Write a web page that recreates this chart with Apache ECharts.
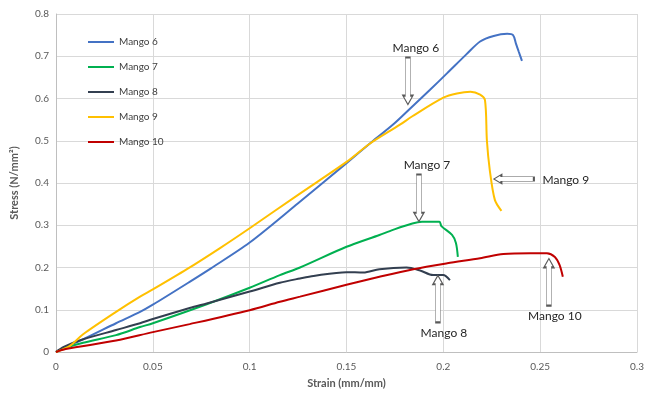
<!DOCTYPE html>
<html>
<head>
<meta charset="utf-8">
<script src="https://cdn.jsdelivr.net/npm/echarts@6/dist/echarts.min.js"></script>
<style>
    html,body{margin:0;padding:0;background:#fff;}
    #chart{width:659px;height:396px;}
</style>
</head>
<body>
<div id="chart"></div>
<script>
// strain (mm/mm), stress (N/mm2)
var mango6 = [[0,0],[0.005,0.012],[0.014,0.03],[0.031,0.068],[0.0434,0.095],[0.05,0.112],[0.069,0.166],[0.08,0.198],[0.1,0.259],
    [0.125,0.352],[0.15,0.447],[0.163,0.497],[0.1745,0.54],[0.184,0.581],[0.193,0.62],[0.202,0.66],[0.212,0.705],[0.219,0.735],
    [0.226,0.748],[0.233,0.753],[0.236,0.75],[0.2375,0.73],[0.239,0.71],[0.2406,0.689]];
var mango7 = [[0,0],[0.005,0.01],[0.014,0.022],[0.031,0.04],[0.0434,0.059],[0.05,0.068],[0.0778,0.113],[0.1,0.152],[0.1156,0.182],
    [0.126,0.2],[0.15,0.249],[0.167,0.277],[0.174,0.289],[0.184,0.304],[0.189,0.308],[0.198,0.308],[0.199,0.298],[0.2045,0.277],
    [0.2065,0.258],[0.2075,0.225]];
var mango8 = [[0,0],[0.004,0.012],[0.014,0.03],[0.031,0.052],[0.0434,0.068],[0.05,0.078],[0.069,0.104],[0.0778,0.115],[0.1,0.143],
    [0.1156,0.164],[0.126,0.174],[0.133,0.18],[0.15,0.189],[0.1587,0.188],[0.167,0.196],[0.181,0.2],[0.188,0.193],[0.1947,0.182],
    [0.1999,0.182],[0.2034,0.17]];
var mango9 = [[0,0],[0.007,0.014],[0.014,0.042],[0.031,0.095],[0.0434,0.131],[0.05,0.148],[0.0676,0.196],[0.0847,0.246],[0.1,0.293],
    [0.125,0.372],[0.15,0.45],[0.162,0.493],[0.1776,0.538],[0.184,0.558],[0.2,0.602],[0.207,0.612],[0.214,0.616],[0.219,0.609],
    [0.2215,0.596],[0.2225,0.5],[0.224,0.43],[0.2266,0.36],[0.23,0.334]];
var mango10 = [[0,0],[0.005,0.007],[0.031,0.027],[0.05,0.047],[0.069,0.066],[0.1,0.099],[0.1156,0.119],
    [0.126,0.131],[0.15,0.159],[0.167,0.178],[0.1845,0.196],[0.202,0.21],[0.219,0.222],[0.231,0.232],[0.245,0.234],[0.2535,0.234],
    [0.2576,0.225],[0.26,0.206],[0.2617,0.178]];

var names = ['Mango 6','Mango 7','Mango 8','Mango 9','Mango 10'];
var colors = ['#4472C4','#00B050','#333F50','#FFC000','#C00000'];
// arrow tips (strain, stress) and which way they point
var arrowTips = {
    'Mango 6':[0.1817,0.587,'down'],
    'Mango 7':[0.1874,0.31,'down'],
    'Mango 8':[0.1972,0.18,'up'],
    'Mango 9':[0.2261,0.4095,'left'],
    'Mango 10':[0.2545,0.22,'up']
};

var font = 'Lato, "Open Sans", sans-serif';
var arrowPath = 'path://M5,0 L10,9 L7.5,9 L7.5,48 L2.5,48 L2.5,9 L0,9 Z';

function makeMarks(name) {
    var t = arrowTips[name];
    var arrow = {coord:[t[0],t[1]], symbol:arrowPath, symbolKeepAspect:false,
        itemStyle:{color:'#fff',borderColor:'#595959',borderWidth:1}, label:{show:false}};
    var lab = {coord:[t[0],t[1]], symbol:'rect', symbolSize:1, itemStyle:{color:'rgba(0,0,0,0)'},
        label:{show:true,formatter:name,color:'#262626',fontSize:12,fontFamily:font,position:'inside'}};
    if (t[2] == 'down') {
        arrow.symbolSize = [10,47];
        arrow.symbolRotate = 180;
        arrow.symbolOffset = [0,-23];
        lab.label.offset = [8,-56];
    } else if (t[2] == 'up') {
        arrow.symbolSize = [10,47];
        arrow.symbolOffset = [0,23];
        lab.label.offset = [6,57];
    } else {
        arrow.symbolSize = [9,40];
        arrow.symbolRotate = 90;
        arrow.symbolOffset = [20,0];
        lab.label.offset = [72,1];
    }
    return {silent:true, animation:false, data:[arrow, lab]};
}

var allData = [mango6, mango7, mango8, mango9, mango10];
var series = [];
for (var i = 0; i < names.length; i++) {
    series.push({
        name: names[i],
        type: 'line',
        data: allData[i],
        showSymbol: false,
        smooth: 0.3,
        lineStyle: {width: 2, color: colors[i]},
        itemStyle: {color: colors[i]},
        markPoint: makeMarks(names[i])
    });
}

var chart = echarts.init(document.getElementById('chart'));
chart.setOption({
    animation: false,
    textStyle: {fontFamily: font},
    grid: {left: 56, right: 22, top: 14, bottom: 44},
    legend: {
        orient: 'vertical',
        left: 83,
        top: 30,
        itemWidth: 26,
        itemHeight: 2,
        itemGap: 11,
        icon: 'rect',
        data: names,
        textStyle: {color: '#404040', fontSize: 10, fontFamily: font, lineHeight: 14}
    },
    xAxis: {
        type: 'value',
        min: 0,
        max: 0.3,
        interval: 0.05,
        name: 'Strain (mm/mm)',
        nameLocation: 'middle',
        nameGap: 26,
        nameTextStyle: {color: '#595959', fontSize: 11, fontWeight: 'bold', fontFamily: font},
        axisLine: {lineStyle: {color: '#bfbfbf'}},
        axisTick: {show: false},
        axisLabel: {color: '#595959', fontSize: 10, margin: 10},
        splitLine: {show: true, lineStyle: {color: '#d9d9d9'}}
    },
    yAxis: {
        type: 'value',
        min: 0,
        max: 0.8,
        interval: 0.1,
        name: 'Stress (N/mm²)',
        nameLocation: 'middle',
        nameGap: 36,
        nameTextStyle: {color: '#595959', fontSize: 11, fontWeight: 'bold', fontFamily: font},
        axisLine: {show: true, lineStyle: {color: '#bfbfbf'}},
        axisTick: {show: false},
        axisLabel: {color: '#595959', fontSize: 10, margin: 7},
        splitLine: {show: true, lineStyle: {color: '#d9d9d9'}}
    },
    series: series
});
</script>
</body>
</html>
